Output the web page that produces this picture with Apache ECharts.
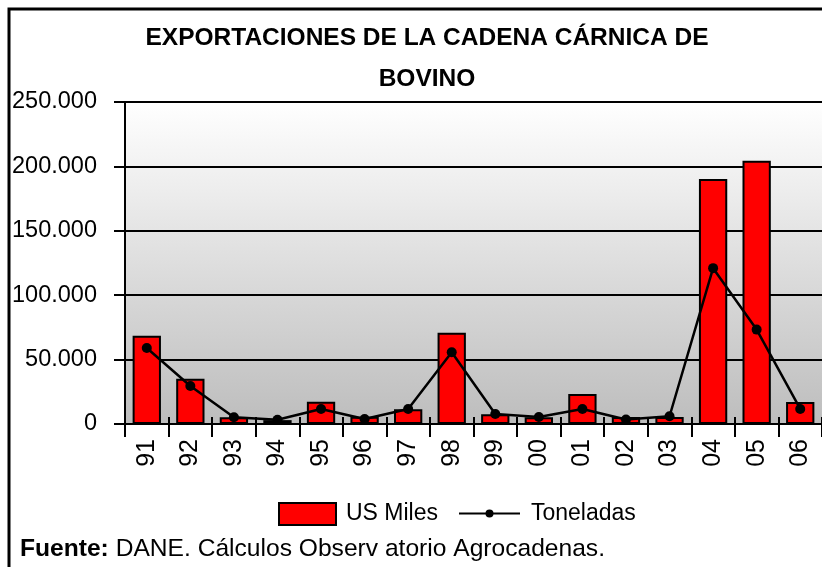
<!DOCTYPE html>
<html>
<head>
<meta charset="utf-8">
<script src="https://cdn.jsdelivr.net/npm/echarts@6/dist/echarts.min.js"></script>
<style>
html,body{margin:0;padding:0;background:#fff;}
#chart{width:822px;height:567px;}
</style>
</head>
<body>
<div id="chart"></div>
<script>
const categories = ['91','92','93','94','95','96','97','98','99','00','01','02','03','04','05','06'];
const usMiles = [68600, 35200, 5200, 3000, 17300, 5700, 11400, 70900, 7500, 5200, 23300, 5400, 5400, 190200, 204400, 17100];
const toneladas = [59000, 29500, 5200, 3300, 11600, 3900, 11600, 55700, 7800, 5500, 11700, 3500, 6000, 121000, 73300, 11700];
const yTickLabels = ['0', '50.000', '100.000', '150.000', '200.000', '250.000'];
const seriesNames = ['US Miles', 'Toneladas'];
const titleLine1 = 'EXPORTACIONES DE LA CADENA CÁRNICA DE';
const titleLine2 = 'BOVINO';
const sourceBold = 'Fuente:';
const sourceText = ' DANE. Cálculos Observ atorio Agrocadenas.';

const FONT = "'Liberation Sans', Arial, sans-serif";
const chart = echarts.init(document.getElementById('chart'));
chart.setOption({
  animation: false,
  backgroundColor: '#ffffff',
  legend: [{
    left: 273,
    top: 497,
    itemWidth: 57,
    itemHeight: 22,
    icon: 'rect',
    textStyle: { fontFamily: FONT, fontSize: 23, color: '#000', padding: [0, 0, 0, 5] },
    data: [seriesNames[0]]
  }, {
    left: 453,
    top: 497,
    itemWidth: 61,
    itemHeight: 10,
    textStyle: { fontFamily: FONT, fontSize: 23, color: '#000', padding: [0, 0, 0, 6] },
    data: [seriesNames[1]]
  }],
  grid: {
    left: 125, top: 102, width: 700, height: 322,
    show: true, borderWidth: 0,
    backgroundColor: new echarts.graphic.LinearGradient(0, 0, 0, 1, [
      { offset: 0, color: '#ffffff' },
      { offset: 1, color: '#bdbdbd' }
    ])
  },
  xAxis: [{
    type: 'category',
    data: categories,
    position: 'bottom',
    axisLine: { lineStyle: { color: '#000', width: 2 } },
    axisTick: { show: true, length: 13, lineStyle: { color: '#000', width: 2 } },
    axisLabel: { rotate: 90, margin: 15, fontFamily: FONT, fontSize: 25, color: '#000' },
    z: 3
  }, {
    type: 'category',
    data: categories,
    position: 'bottom',
    axisLine: { show: false },
    axisTick: { show: true, inside: true, length: 7, lineStyle: { color: '#000', width: 2 } },
    axisLabel: { show: false },
    z: 3
  }],
  yAxis: {
    type: 'value',
    min: 0, max: 250000, interval: 50000,
    axisLine: { show: true, lineStyle: { color: '#000', width: 2 } },
    axisTick: { show: true, length: 11, lineStyle: { color: '#000', width: 2 } },
    splitLine: { lineStyle: { color: '#000', width: 2 } },
    axisLabel: {
      margin: 28, fontFamily: FONT, fontSize: 23.5, color: '#000',
      formatter: function (v) { return yTickLabels[Math.round(v / 50000)]; }
    }
  },
  series: [{
    name: seriesNames[0],
    type: 'bar',
    data: usMiles,
    barWidth: '65%',
    itemStyle: { color: '#ff0000', borderColor: '#000', borderWidth: 2 }
  }, {
    name: seriesNames[1],
    type: 'line',
    data: toneladas,
    symbol: 'circle',
    symbolSize: 10,
    lineStyle: { color: '#000', width: 2.5 },
    itemStyle: { color: '#000' },
    z: 4
  }],
  graphic: [{
    type: 'rect',
    shape: { x: 9, y: 9, width: 830, height: 580 },
    style: { fill: 'none', stroke: '#000', lineWidth: 3 },
    silent: true
  }, {
    type: 'text',
    x: 427, y: 38,
    style: {
      text: titleLine1,
      font: 'bold 24.5px ' + FONT,
      fill: '#000',
      textAlign: 'center',
      textVerticalAlign: 'middle'
    }
  }, {
    type: 'text',
    x: 427, y: 79,
    style: {
      text: titleLine2,
      font: 'bold 24.5px ' + FONT,
      fill: '#000',
      textAlign: 'center',
      textVerticalAlign: 'middle'
    }
  }, {
    type: 'text',
    x: 20, y: 549,
    style: {
      text: '{b|' + sourceBold + '}' + sourceText,
      font: '24.6px ' + FONT,
      fill: '#000',
      textVerticalAlign: 'middle',
      rich: { b: { fontWeight: 'bold', fontSize: 24.6, fontFamily: FONT, fill: '#000' } }
    }
  }]
});
</script>
</body>
</html>
